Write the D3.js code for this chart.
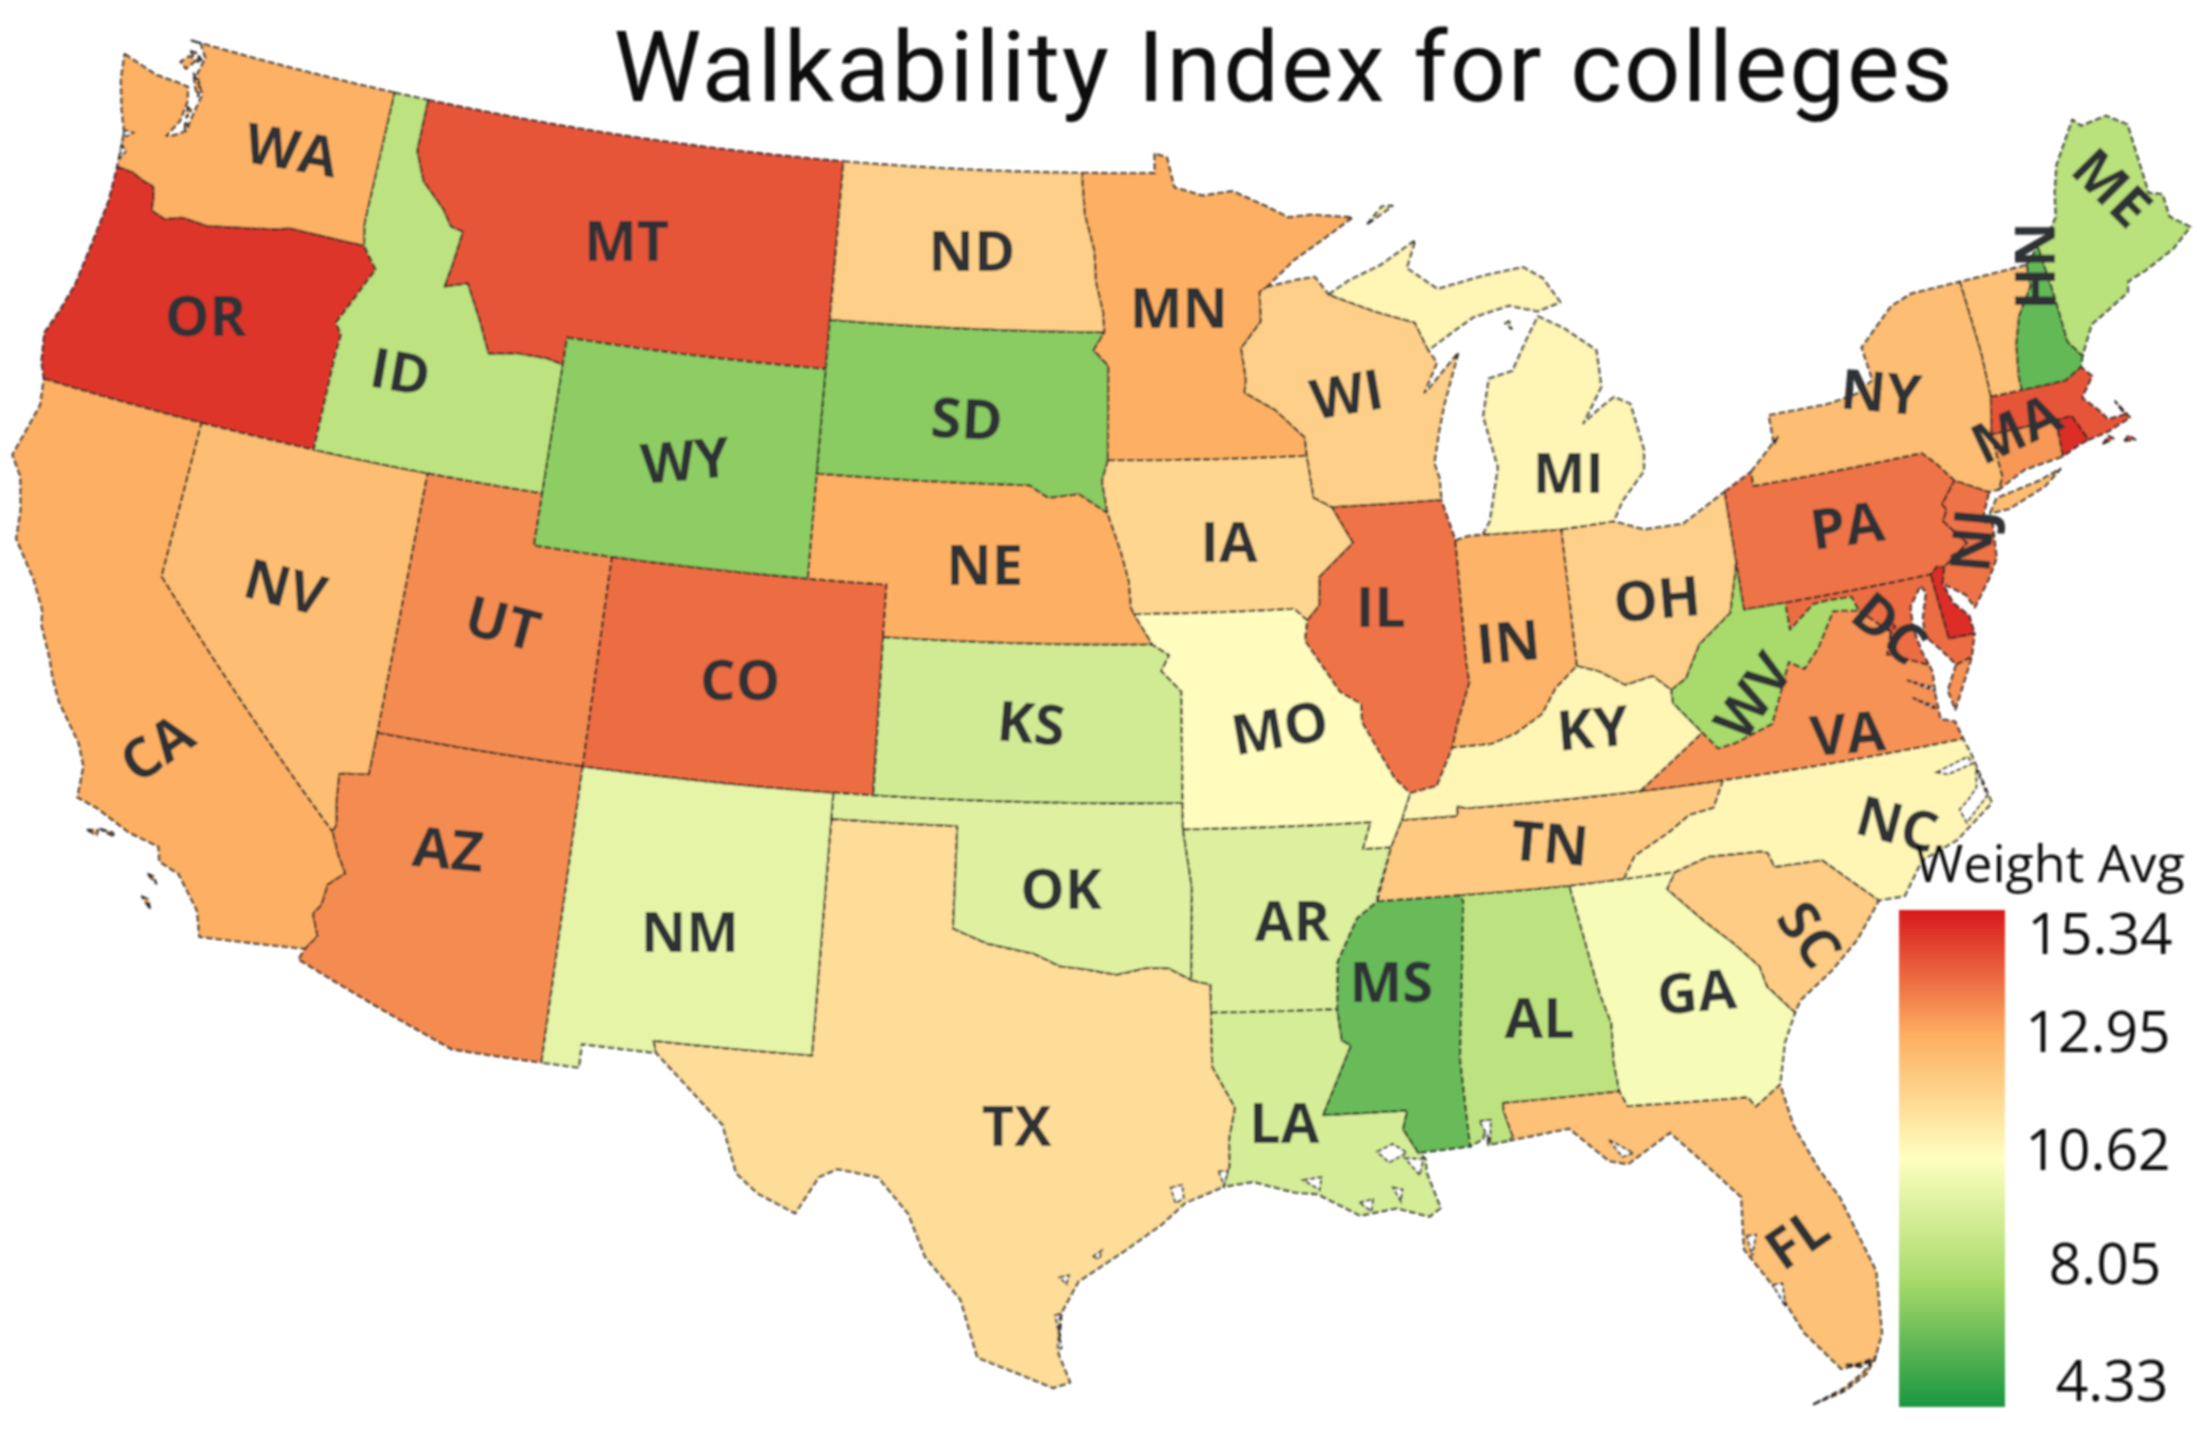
<!DOCTYPE html>
<html><head><meta charset="utf-8">
<script src="https://cdn.jsdelivr.net/npm/d3@7"></script>
<style>html,body{margin:0;background:#fff}svg{display:block}text{font-family:"Open Sans",sans-serif}</style>
</head><body><svg id="c" width="2203" height="1442"></svg>
<script>
const legendStops=[15.34,12.95,10.62,8.05,4.33];
const legendColors=["#d7191c","#fdae61","#ffffc0","#a6d96a","#1a9641"];
const stateCodes=["WA","OR","CA","NV","ID","MT","WY","UT","AZ","NM","CO","ND","SD","NE","KS","OK","TX","MN","IA","MO","AR","LA","WI","MI","IL","IN","OH","KY","TN","MS","AL","GA","FL","SC","NC","VA","WV","MD","DE","PA","NJ","NY","CT","RI","MA","VT","NH","ME","DC"];
const stateValues=[12.85,14.9,12.9,12.5,8.7,14.4,7.4,13.5,13.5,9.9,14.0,12.0,7.3,12.9,9.3,9.7,11.6,12.9,11.8,10.7,9.6,9.4,12.0,10.9,13.9,12.8,12.0,10.9,12.15,6.4,8.7,10.35,12.4,12.1,10.9,13.4,8.1,14.0,15.0,13.9,13.9,12.5,13.3,15.0,14.4,12.4,6.3,8.6,14.5];
// shared borders, lon/lat
const columbia=[[-124.0,46.27],[-123.55,46.25],[-123.2,46.15],[-122.9,46.1],[-122.8,45.87],[-122.76,45.65],[-122.35,45.56],[-121.9,45.68],[-121.2,45.65],[-120.65,45.73],[-119.95,45.83],[-119.3,45.93],[-119.0,46.0],[-116.92,46.0]];
const snake=[[-116.92,46.0],[-116.47,45.6],[-116.67,45.3],[-116.85,45.0],[-117.2,44.45],[-117.0,44.25],[-117.03,43.83],[-117.03,42.0]];
const idmt=[[-116.05,49],[-116.05,48.0],[-115.7,47.45],[-115.0,47.0],[-114.7,46.7],[-114.35,46.65],[-114.45,46.0],[-114.55,45.55],[-113.95,45.7],[-113.45,45.05],[-113.05,44.45],[-112.3,44.55],[-111.5,44.55],[-111.05,44.48]];
const coloradoR=[[-114.72,32.72],[-114.5,33.0],[-114.7,33.4],[-114.55,33.6],[-114.5,34.0],[-114.15,34.27],[-114.4,34.6],[-114.63,35.0]];
const azNv=[[-114.63,35.0],[-114.57,35.15],[-114.68,35.6],[-114.74,36.1],[-114.05,36.2],[-114.04,37.0]];
const redN=[[-97.23,49],[-97.13,48.2],[-96.85,47.5],[-96.8,46.9],[-96.6,46.33],[-96.56,45.94]];
const sdMn=[[-96.56,45.94],[-96.85,45.6],[-96.45,45.3],[-96.45,43.5]];
const bigSioux=[[-96.45,43.5],[-96.6,43.1],[-96.45,42.49]];
const missNeSd=[[-96.45,42.49],[-97.2,42.85],[-98.0,42.77],[-98.5,43.0]];
const missNeIa=[[-96.45,42.49],[-96.1,41.75],[-95.9,41.2],[-95.85,40.7],[-95.77,40.58]];
const ksMo=[[-95.31,40.0],[-94.9,39.8],[-95.1,39.5],[-94.61,39.11],[-94.62,37]];
const redS=[[-100,34.56],[-99.2,34.3],[-98.1,34.13],[-97.5,33.9],[-96.9,33.85],[-96.2,33.75],[-95.5,33.88],[-95.0,33.87],[-94.48,33.64]];
const okAr=[[-94.62,36.5],[-94.43,35.4],[-94.48,33.64]];
const sabine=[[-94.04,31.99],[-93.55,31.2],[-93.7,30.6],[-93.7,30.1],[-93.85,29.7]];
const mnWi=[[-92.1,46.75],[-92.29,46.66],[-92.29,46.1],[-92.85,45.6],[-92.75,45.0],[-92.8,44.75],[-92.0,44.4],[-91.25,43.85],[-91.22,43.5]];
const wiIa=[[-91.22,43.5],[-91.1,42.7],[-90.64,42.5]];
const ilIa=[[-90.64,42.5],[-90.15,41.8],[-91.05,41.2],[-91.1,40.65],[-91.42,40.38]];
const iaMo=[[-91.42,40.38],[-91.73,40.61],[-95.77,40.58]];
const ilMo=[[-91.42,40.38],[-91.5,40.0],[-90.7,39.0],[-90.2,38.75],[-90.2,38.4],[-89.5,37.3],[-89.15,37.0]];
const moTnAr=[[-89.15,37.0],[-89.4,36.5],[-89.7,36.0],[-90.37,36.0],[-90.15,36.5]];
const arMs=[[-90.1,35.0],[-90.6,34.7],[-91.1,33.9],[-91.17,33.0]];
const laMs=[[-91.17,33.0],[-91.1,32.4],[-90.9,32.3],[-91.6,31.0],[-89.73,31.0],[-89.85,30.65],[-89.55,30.18]];
const ohioKy=[[-88.5,37.1],[-88.05,37.8],[-87.1,37.8],[-86.5,37.95],[-85.8,38.27],[-85.4,38.73],[-84.82,39.1],[-84.3,38.95],[-83.7,38.63],[-83.0,38.73],[-82.6,38.42]];
const ohioWv=[[-82.6,38.42],[-82.2,38.6],[-81.75,39.2],[-80.87,39.7],[-80.6,40.4],[-80.52,40.64]];
const wvKy=[[-82.6,38.42],[-82.6,38.17],[-82.0,37.54]];
const vaKy=[[-82.0,37.54],[-83.68,36.6]];
const wvVa=[[-82.0,37.54],[-81.68,37.2],[-81.25,37.25],[-80.3,37.5],[-79.65,38.6],[-79.3,38.42],[-78.87,38.77],[-78.35,39.4],[-77.72,39.32]];
const wvMd=[[-77.72,39.32],[-77.83,39.6],[-78.4,39.62],[-78.8,39.6],[-79.48,39.2],[-79.48,39.72]];
const gaSc=[[-83.11,35],[-83.35,34.7],[-82.6,34.0],[-82.0,33.5],[-81.5,33.0],[-81.4,32.6],[-80.87,32.03]];
const ncSc=[[-83.11,35],[-82.3,35.2],[-81.05,35.15],[-80.9,35.1],[-80.8,34.82],[-79.68,34.8],[-78.55,33.86]];
const ncTn=[[-81.68,36.59],[-82.0,36.1],[-82.6,36.03],[-83.1,35.77],[-84.0,35.4],[-84.32,34.99]];
const paNj=[[-74.69,41.36],[-75.13,40.97],[-75.05,40.85],[-75.2,40.65],[-74.73,40.15],[-75.42,39.8]];
const nyVt=[[-73.28,42.75],[-73.25,43.6],[-73.35,45.01]];
const vtNh=[[-71.5,45.01],[-71.55,44.6],[-72.05,44.1],[-72.3,43.6],[-72.45,43.0],[-72.46,42.73]];
const nhMe=[[-71.08,45.3],[-71.0,44.3],[-70.98,43.4],[-70.7,43.07]];
const r=a=>a.slice().reverse();
const stateShapes={
WA:[[[-124.73,48.38],[-124.62,47.9],[-124.35,47.35],[-124.1,46.95],[-124.05,46.65],...columbia,[-117.04,46.42],[-117.03,49],[-123.02,49],[-122.75,49],[-122.5,48.75],[-122.6,48.4],[-122.3,48.05],[-122.4,47.6],[-122.45,47.3],[-122.75,47.15],[-122.95,47.1],[-122.7,47.45],[-122.65,47.85],[-122.75,48.12],[-123.1,48.15],[-123.7,48.17]],
 [[-122.75,48.65],[-122.95,48.7],[-123.15,48.55],[-122.95,48.45]],[[-122.7,48.4],[-122.45,48.2],[-122.4,48.0],[-122.55,48.15]],[[-122.7,48.75],[-122.6,48.7],[-122.68,48.62]],[[-122.95,48.8],[-122.85,48.72],[-122.8,48.8]],[[-122.6,47.75],[-122.48,47.7],[-122.55,47.55]],[[-122.55,47.45],[-122.42,47.4],[-122.5,47.32]]],
OR:[[[-124.0,46.27],[-123.95,45.6],[-124.05,44.7],[-124.15,43.9],[-124.35,43.3],[-124.55,42.84],[-124.4,42.3],[-124.21,42.0],[-120,42],[-117.03,42],...r(snake),...r(columbia)]],
CA:[[[-124.21,42],[-124.1,41.5],[-124.4,40.45],[-124.05,40.1],[-123.8,39.5],[-123.7,38.95],[-123.0,38.3],[-122.6,37.8],[-122.5,37.5],[-122.1,36.95],[-121.9,36.6],[-121.6,36.2],[-120.9,35.55],[-120.65,35.15],[-120.6,34.55],[-120.1,34.45],[-119.25,34.15],[-118.5,34.02],[-118.4,33.75],[-117.9,33.6],[-117.3,33.0],[-117.12,32.53],...coloradoR,[-120,39],[-120,42]],
 [[-120.2,34.0],[-119.95,33.95],[-119.95,34.05]],[[-119.9,34.08],[-119.55,34.0],[-119.6,34.07]],[[-118.6,33.47],[-118.35,33.33],[-118.45,33.45]],[[-118.6,33.03],[-118.35,32.83],[-118.45,33.0]]],
NV:[[[-120,42],[-117.03,42],[-114.04,42],[-114.04,37],...r(azNv),[-120,39]]],
ID:[[[-117.03,49],[-116.05,49],...idmt.slice(1),[-111.05,42],[-114.04,42],[-117.03,42],...r(snake),[-117.04,46.42]]],
MT:[[...idmt,[-111.05,45],[-104.05,45],[-104.05,49]]],
WY:[[[-111.05,45],[-104.05,45],[-104.05,41],[-111.05,41]]],
UT:[[[-114.04,42],[-111.05,42],[-111.05,41],[-109.05,41],[-109.05,37],[-114.04,37]]],
AZ:[[[-114.04,37],[-109.05,37],[-109.05,31.33],[-111.07,31.33],[-114.82,32.5],...coloradoR,...azNv.slice(1,-1)]],
NM:[[[-109.05,37],[-103,37],[-103.04,32],[-106.62,32],[-106.53,31.78],[-108.21,31.78],[-108.21,31.33],[-109.05,31.33]]],
CO:[[[-109.05,41],[-102.05,41],[-102.05,37],[-109.05,37]]],
ND:[[[-104.05,49],...redN,[-104.05,45.94]]],
SD:[[[-104.05,45.94],[-96.56,45.94],...sdMn.slice(1),...bigSioux.slice(1),...missNeSd.slice(1),[-104.05,43]]],
NE:[[[-104.05,43],[-98.5,43],...r(missNeSd).slice(1),...missNeIa.slice(1),[-95.31,40],[-102.05,40],[-102.05,41],[-104.05,41]]],
KS:[[[-102.05,40],...ksMo,[-102.04,37]]],
OK:[[[-103,37],[-94.62,37],...okAr,...r(redS).slice(1),[-100,36.5],[-103,36.5]]],
TX:[[[-103,36.5],[-100,36.5],...redS,[-94.04,33.55],[-94.04,33.02],...sabine,[-94.7,29.4],[-95.2,29.0],[-96,28.5],[-97,27.9],[-97.35,27.3],[-97.4,26.5],[-97.15,25.96],[-97.5,25.85],[-98.2,26.1],[-99.1,26.4],[-99.5,27.5],[-100.3,28.3],[-100.7,29.1],[-101.4,29.77],[-102.3,29.88],[-102.7,29.7],[-103.15,28.98],[-104,29.3],[-104.5,29.65],[-104.9,30.55],[-105.95,31.35],[-106.53,31.78],[-106.62,32],[-103.04,32]]],
MN:[[...redN,...sdMn.slice(1),[-91.22,43.5],...r(mnWi).slice(1),[-91.3,47.25],[-90.5,47.6],[-89.6,48.0],[-90.75,48.1],[-91.4,48.07],[-92,48.3],[-92.95,48.62],[-93.8,48.55],[-94.6,48.72],[-94.8,49.3],[-95.15,49.38],[-95.15,49]]],
IA:[[[-96.45,43.5],[-91.22,43.5],...wiIa.slice(1),...ilIa.slice(1),...iaMo.slice(1),...r(missNeIa).slice(1),...r(bigSioux).slice(1,-1)]],
MO:[[[-95.77,40.58],...r(iaMo).slice(1),...ilMo.slice(1),...moTnAr.slice(1),[-94.62,36.5],[-94.62,37],...r(ksMo).slice(1),[-95.31,40]]],
AR:[[[-94.62,36.5],[-90.15,36.5],[-90.37,36],[-89.7,36],[-90.1,35.1],[-90.1,35],...arMs.slice(1),[-94.04,33.02],[-94.04,33.55],[-94.48,33.64],[-94.43,35.4]]],
LA:[[[-94.04,33.02],...laMs,[-89.4,30.05],[-89.4,29.8],[-89.15,29.1],[-89.4,28.95],[-90.1,29.15],[-90.9,29.05],[-91.8,29.5],[-92.3,29.55],[-93.2,29.78],[-93.85,29.7],...r(sabine).slice(1)]],
WI:[[...mnWi,...wiIa.slice(1),[-87.8,42.49],[-87.8,42.9],[-87.9,43.2],[-87.7,43.8],[-87.5,44.3],[-87.0,45.25],[-87.9,44.6],[-88.0,44.55],[-87.6,45.1],[-87.8,45.35],[-88.1,45.9],[-89.1,46.15],[-90.4,46.55],[-90.75,46.9],[-91.2,46.87]]],
MI:[[[-86.82,41.76],[-84.8,41.7],[-83.45,41.73],[-83.15,42.1],[-82.5,42.6],[-82.42,43.0],[-82.6,43.9],[-83.0,44.07],[-83.4,43.9],[-83.9,43.65],[-83.3,44.3],[-83.3,45.0],[-84.1,45.5],[-84.75,45.78],[-85.1,45.4],[-85.6,44.8],[-86.25,44.7],[-86.5,44.0],[-86.25,43.0],[-86.6,42.0]],
 [[-90.4,46.55],[-89.1,46.15],[-88.1,45.9],[-87.8,45.35],[-87.0,45.7],[-86.5,45.9],[-85.5,46.05],[-84.75,45.88],[-84.1,46.0],[-84.5,46.5],[-85,46.75],[-86.1,46.67],[-87.4,46.5],[-88.2,46.95],[-87.9,47.47],[-88.9,47.05],[-89.8,46.8]],
 [[-89.2,47.85],[-88.45,48.17],[-88.75,48.17]],[[-85.65,45.72],[-85.5,45.6],[-85.55,45.75]]],
IL:[[[-90.64,42.5],[-87.8,42.49],[-87.53,41.7],[-87.53,39.35],[-87.5,39],[-87.9,38.2],[-88.05,37.8],[-88.5,37.1],[-89.15,37],...r(ilMo).slice(1),...r(ilIa).slice(1,-1)]],
IN:[[[-87.53,41.7],[-87.2,41.76],[-86.82,41.76],[-84.8,41.7],[-84.82,39.1],[-85.4,38.73],[-85.8,38.27],[-86.5,37.95],[-87.1,37.8],[-88.05,37.8],[-87.9,38.2],[-87.5,39],[-87.53,39.35]]],
OH:[[[-84.8,41.7],[-83.45,41.73],[-82.7,41.5],[-81.7,41.5],[-80.52,41.98],...r(ohioWv),[-83,38.73],[-83.7,38.63],[-84.3,38.95],[-84.82,39.1]]],
KY:[[[-89.4,36.5],[-89.15,37],...ohioKy,...wvKy.slice(1),...vaKy.slice(1),[-87.85,36.63],[-88.05,36.68],[-88.07,36.5]]],
TN:[[[-90.1,35],[-89.7,36],[-89.4,36.5],[-88.07,36.5],[-88.05,36.68],[-87.85,36.63],[-83.68,36.6],...ncTn,[-85.6,34.98],[-88.2,35]]],
MS:[[[-90.1,35],...arMs.slice(1),...laMs.slice(1),[-88.4,30.23],[-88.47,31.9],[-88.1,34.9],[-88.2,35]]],
AL:[[[-88.2,35],[-85.6,34.98],[-85.18,32.87],[-85,32.3],[-85.05,31.55],[-85,31],[-87.6,31],[-87.6,30.85],[-87.45,30.35],[-87.52,30.28],[-88,30.23],[-88,30.7],[-88.1,30.35],[-88.4,30.23],[-88.47,31.9],[-88.1,34.9]]],
GA:[[[-85.6,34.98],[-84.32,34.99],[-83.11,35],...gaSc.slice(1),[-81.2,31.5],[-81.45,30.72],[-82.05,30.37],[-82.2,30.57],[-84.86,30.7],[-85,31],[-85.05,31.55],[-85,32.3],[-85.18,32.87]]],
FL:[[[-87.6,31],[-85,31],[-84.86,30.7],[-82.2,30.57],[-82.05,30.37],[-81.45,30.72],[-81.3,29.9],[-80.9,29],[-80.55,28.4],[-80.05,26.9],[-80.15,25.7],[-80.4,25.2],[-81.1,25.15],[-81.75,25.95],[-82.1,26.7],[-82.75,27.7],[-82.65,28.7],[-83.4,29.5],[-84,30.1],[-85,29.6],[-85.4,29.7],[-86.2,30.4],[-87.52,30.28],[-87.45,30.35],[-87.6,30.85]],
 [[-80.35,25.3],[-80.6,24.98],[-81.1,24.72],[-81.8,24.55],[-81.1,24.77],[-80.65,25.02]],[[-81.0,25.22],[-80.75,25.2],[-80.45,25.25],[-80.7,25.13]]],
SC:[[...ncSc,[-79.2,33.2],[-79.9,32.7],[-80.7,32.25],[-80.87,32.03],...r(gaSc).slice(1,-1)]],
NC:[[...r(ncTn),[-75.87,36.55],[-75.75,36.2],[-75.53,35.25],[-76.5,34.7],[-77.4,34.45],[-77.95,33.85],[-78.55,33.86],...r(ncSc).slice(1)]],
VA:[[[-83.68,36.6],[-81.68,36.59],[-75.87,36.55],[-75.97,36.9],[-76.3,37],[-76.3,37.5],[-76.25,37.9],[-76.3,38.05],[-76.95,38.3],[-77.25,38.4],[-77.05,38.8],[-77.72,39.32],...r(wvVa).slice(1)],
 [[-75.65,37.95],[-75.24,38.03],[-75.9,37.12],[-75.98,37.5]]],
WV:[[...ohioWv,[-80.52,39.72],[-79.48,39.72],...r(wvMd).slice(1),...r(wvVa).slice(1),...r(wvKy).slice(1)]],
MD:[[[-79.48,39.72],[-75.79,39.72],[-75.69,38.46],[-75.05,38.45],[-75.24,38.03],[-75.65,37.95],[-75.95,38.3],[-76.25,38.6],[-76.2,38.95],[-76,39.4],[-76.1,39.55],[-76.45,39.2],[-76.5,38.8],[-76.4,38.3],[-76.3,38.05],[-76.95,38.3],[-77.25,38.4],[-77.05,38.8],...wvMd]],
DE:[[[-75.79,39.72],[-75.6,39.84],[-75.42,39.8],[-75.55,39.5],[-75.4,39.1],[-75.08,38.8],[-75.05,38.45],[-75.69,38.46]]],
PA:[[[-80.52,41.98],[-79.76,42.27],[-79.76,42],[-75.35,42],[-75.05,41.75],...paNj,[-75.6,39.84],[-75.79,39.72],[-80.52,39.72],[-80.52,40.64]]],
NJ:[[...paNj,[-75.55,39.5],[-75.05,39.2],[-74.9,38.93],[-74.4,39.4],[-74.1,39.75],[-74,40.4],[-74.25,40.48],[-73.9,41]]],
NY:[[[-79.76,42.27],[-79.76,42],[-75.35,42],[-75.05,41.75],[-74.69,41.36],[-73.9,41],[-73.65,41],[-73.48,41.21],[-73.5,42.05],...nyVt,[-74.7,45],[-75.3,44.85],[-76.3,44.2],[-76.2,43.55],[-76.7,43.35],[-77.5,43.27],[-79.05,43.27],[-79.05,42.7],[-78.9,42.85]],
 [[-74.0,40.6],[-73.75,40.85],[-72.6,40.98],[-72,41.1],[-72.5,40.85],[-73.5,40.6]]],
CT:[[[-73.5,42.05],[-71.8,42.02],[-71.86,41.32],[-72.9,41.25],[-73.65,41],[-73.48,41.21]]],
RI:[[[-71.8,42.02],[-71.38,42.02],[-71.2,41.67],[-71.12,41.5],[-71.4,41.45],[-71.86,41.32]]],
MA:[[[-73.5,42.05],[-73.28,42.75],[-72.46,42.73],[-71.3,42.7],[-70.82,42.87],[-70.6,42.65],[-71,42.3],[-70.65,41.97],[-70.5,41.78],[-70.05,41.78],[-70.2,42.07],[-69.95,41.7],[-70.6,41.55],[-71.12,41.5],[-71.2,41.67],[-71.38,42.02],[-71.8,42.02]],
 [[-70.8,41.35],[-70.5,41.4],[-70.6,41.47]],[[-70.25,41.3],[-69.97,41.27],[-70.1,41.38]]],
VT:[[...nyVt,...vtNh]],
NH:[[[-71.5,45.01],[-71.08,45.3],...nhMe.slice(1),[-70.82,42.87],[-71.3,42.7],...r(vtNh).slice(0,-1)]],
ME:[[[-71.08,45.3],[-70.8,45.4],[-70.4,45.75],[-70.25,46.2],[-70,46.7],[-69.23,47.46],[-69.05,47.3],[-68.3,47.35],[-67.8,47.07],[-67.8,45.7],[-67.45,45.6],[-67.45,45.15],[-67,44.85],[-67.6,44.55],[-68.5,44.3],[-69,44.2],[-69.1,44],[-69.8,43.75],[-70.25,43.6],[-70.55,43.25],[-70.7,43.07],...r(nhMe).slice(1,-1)]],
DC:[[[-77.12,38.93],[-77.04,39],[-76.91,38.89],[-77.04,38.79]]]
};
const waterShapes=[
 [[-124.12,46.98],[-123.85,46.98],[-124.05,46.85]],[[-124.05,46.7],[-123.9,46.6],[-124.0,46.42]],
 [[-90.45,30.25],[-90.1,30.38],[-89.8,30.2],[-90.2,30.03]],[[-92.1,29.78],[-91.7,29.82],[-91.75,29.58]],[[-90.9,29.3],[-90.6,29.35],[-90.65,29.12]],[[-90.15,29.55],[-89.95,29.5],[-90.0,29.28]],[[-89.85,30.1],[-89.45,30.05],[-89.55,29.75]],[[-93.95,30.0],[-93.75,30.0],[-93.83,29.72]],
 [[-95.0,29.7],[-94.75,29.75],[-94.72,29.5],[-94.9,29.4]],[[-97.4,27.98],[-97.2,28.02],[-97.25,27.85]],[[-97.48,27.25],[-97.38,27.28],[-97.42,26.6],[-97.34,26.62]],[[-96.7,28.38],[-96.5,28.5],[-96.55,28.34]],
 [[-82.65,27.95],[-82.45,27.95],[-82.6,27.55]],[[-82.25,26.95],[-82.05,26.95],[-82.05,26.5]],
 [[-75.72,35.95],[-75.6,35.4],[-76.2,34.98],[-76.3,35.25],[-76.05,35.4],[-75.8,35.6]],[[-76.65,36.03],[-75.85,36.2],[-75.78,36.05],[-76.4,35.95]],
 [[-76.9,37.85],[-76.3,37.55],[-76.32,37.62]],[[-76.85,37.5],[-76.35,37.2],[-76.4,37.28]],
 [[-88.15,30.7],[-87.9,30.7],[-87.95,30.3]],[[-85.35,30.1],[-85.1,29.75],[-84.85,29.8]]
];
const labelCodes=["WA","OR","ID","MT","WY","ND","SD","MN","WI","MI","NY","ME","NH","MA","PA","NJ","OH","IN","IL","IA","NE","NV","CA","UT","CO","AZ","NM","KS","MO","KY","WV","VA","DC","TN","NC","SC","AR","OK","TX","LA","MS","AL","GA","FL"];
const labelLonLat=[[-119.48,47.47],[-120.6,43.98],[-115.25,43.8],[-109.85,47.0],[-107.5,43.0],[-100.27,47.44],[-100.2,44.23],[-94.52,46.39],[-90.07,44.63],[-84.45,42.75],[-76.05,43.3],[-68.7,46.0],[-71.3,44.95],[-72.85,42.05],[-77.6,40.95],[-74.6,40.18],[-82.63,40.17],[-86.45,39.7],[-89.55,40.56],[-93.33,41.92],[-99.58,41.47],[-116.97,39.35],[-119.1,35.83],[-111.5,39.46],[-105.5,38.97],[-111.9,35.07],[-106.07,34.13],[-98.3,38.5],[-92.22,38.38],[-84.62,37.9],[-80.65,38.08],[-78.55,37.08],[-77.05,38.88],[-85.95,35.83],[-77.8,35.22],[-80.25,33.45],[-92.1,34.7],[-97.5,35.37],[-98.4,30.85],[-92.47,30.88],[-89.9,33.45],[-86.6,32.55],[-83.0,32.7],[-81.6,27.77]];
const labelTurn=[10,0,10,0,-5,0,3,0,-10,0,5,45,90,-25,-8,-85,-5,-5,0,0,0,15,-35,15,0,5,0,5,-10,-5,-55,-5,40,5,15,55,0,0,0,0,0,0,-5,-35];

const svg=d3.select("#c");
const defs=svg.append("defs");
defs.append("filter").attr("id","soft").append("feGaussianBlur").attr("stdDeviation",0.8);
const color=d3.scaleLinear().domain(legendStops).range(legendColors);
const projection=d3.geoAlbers().parallels([29.5,45.5]).rotate([96,0]).center([0,37.5]).scale(3020).translate([0,0]);
const anchor=projection([-97.2,49]);
projection.translate([1083-anchor[0],173-anchor[1]]);
const path=d3.geoPath(projection);
function dense(ring){const o=[];ring.forEach((p,i)=>{const q=ring[(i+1)%ring.length];const n=Math.ceil(Math.max(Math.abs(q[0]-p[0]),Math.abs(q[1]-p[1])));for(let k=0;k<n;k++)o.push([p[0]+(q[0]-p[0])*k/n,p[1]+(q[1]-p[1])*k/n]);});o.push(o[0]);return o;}
function polygon(ring){const c=dense(ring);const f={type:"Polygon",coordinates:[c]};return d3.geoArea(f)>2*Math.PI?[c.slice().reverse()]:[c];}
function feature(code){return{type:"Feature",code,geometry:{type:"MultiPolygon",coordinates:stateShapes[code].map(polygon)}};}
const root=svg.append("g").attr("filter","url(#soft)");
const g=root.append("g").attr("transform","translate(0,173) scale(1,0.993) translate(0,-173)");
g.selectAll("path.state").data(stateCodes.map(feature)).join("path").attr("class","state")
 .attr("d",path).attr("fill",d=>color(stateValues[stateCodes.indexOf(d.code)]))
 .attr("stroke","#262626").attr("stroke-width",2.1).attr("stroke-dasharray","7 2.5").attr("stroke-linejoin","round");
g.selectAll("path.water").data(waterShapes).join("path").attr("class","water")
 .attr("d",d=>path({type:"Polygon",coordinates:polygon(d)})).attr("fill","#fff").attr("stroke","#262626").attr("stroke-width",2).attr("stroke-dasharray","5 2");
g.selectAll("text.lab").data(labelCodes).join("text").attr("class","lab").text(d=>d)
 .attr("transform",(d,i)=>{const p=projection(labelLonLat[i]);return`translate(${p[0]},${p[1]}) rotate(${labelTurn[i]})`;})
 .attr("text-anchor","middle").attr("dy","0.36em").attr("font-size",56).attr("font-weight",700).attr("fill","#2f3336");
root.append("text").attr("x",1283).attr("y",101).attr("text-anchor","middle").attr("font-size",99).style("font-family","Roboto,sans-serif").attr("textLength",1339).attr("lengthAdjust","spacing").attr("fill","#111").text("Walkability Index for colleges");
const barX=1899,barW=106,barTop=910,barBot=1407;
const grad=defs.append("linearGradient").attr("id","lg").attr("x1",0).attr("x2",0).attr("y1",0).attr("y2",1);
legendColors.forEach((c,i)=>grad.append("stop").attr("offset",i/(legendColors.length-1)).attr("stop-color",c));
root.append("rect").attr("x",barX).attr("y",barTop).attr("width",barW).attr("height",barBot-barTop).attr("fill","url(#lg)");
root.append("text").attr("x",2050).attr("y",882).attr("text-anchor","middle").attr("font-size",52).attr("fill","#111").text("Weight Avg");
const tickY=[933,1031,1149,1263,1380],tickX=[2100,2098,2098,2105,2112];
root.selectAll("text.tick").data(legendStops).join("text").attr("class","tick").attr("x",(d,i)=>tickX[i]).attr("y",(d,i)=>tickY[i]).attr("dy","0.36em").attr("text-anchor","middle").attr("font-size",57).attr("fill","#111").text(d=>d.toFixed(2));
</script></body></html>
